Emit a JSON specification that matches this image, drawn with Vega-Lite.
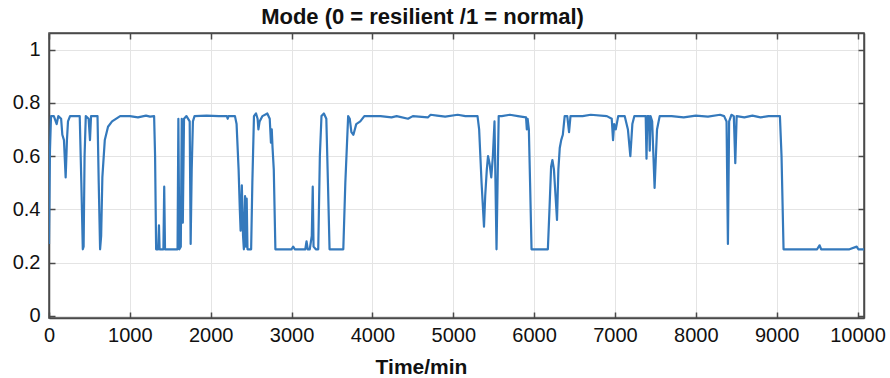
{
  "$schema": "https://vega.github.io/schema/vega-lite/v6.json",
  "width": 815,
  "height": 285,
  "autosize": {"type": "none"},
  "padding": {"left": 49, "top": 33, "right": 26, "bottom": 60},
  "background": "white",
  "config": {
    "font": "Liberation Sans",
    "view": {"stroke": "#4a4a4a", "strokeWidth": 1.5},
    "axis": {"labelFont": "Liberation Sans", "titleFont": "Liberation Sans", "labelColor": "#111", "titleColor": "#111"}
  },
  "title": {
    "text": "Mode (0 = resilient /1 = normal)",
    "font": "Liberation Sans",
    "fontSize": 22,
    "fontWeight": "bold",
    "color": "#111",
    "anchor": "middle",
    "dx": -34,
    "offset": -14,
    "baseline": "alphabetic"
  },
  "data": {
    "values": [
      {"t": 0, "v": 0.27}, {"t": 12, "v": 0.62}, {"t": 25, "v": 0.75}, {"t": 60, "v": 0.75}, {"t": 95, "v": 0.72}, {"t": 115, "v": 0.75},
      {"t": 150, "v": 0.74}, {"t": 165, "v": 0.68}, {"t": 185, "v": 0.66}, {"t": 206, "v": 0.52}, {"t": 222, "v": 0.66}, {"t": 235, "v": 0.73},
      {"t": 260, "v": 0.75}, {"t": 380, "v": 0.75}, {"t": 400, "v": 0.5}, {"t": 418, "v": 0.25}, {"t": 428, "v": 0.26}, {"t": 440, "v": 0.6},
      {"t": 455, "v": 0.75}, {"t": 490, "v": 0.74}, {"t": 507, "v": 0.66}, {"t": 520, "v": 0.75}, {"t": 600, "v": 0.75}, {"t": 615, "v": 0.5},
      {"t": 632, "v": 0.25}, {"t": 645, "v": 0.3}, {"t": 660, "v": 0.52}, {"t": 690, "v": 0.66}, {"t": 730, "v": 0.71}, {"t": 780, "v": 0.73},
      {"t": 880, "v": 0.75}, {"t": 1000, "v": 0.75}, {"t": 1100, "v": 0.745}, {"t": 1200, "v": 0.752}, {"t": 1250, "v": 0.748}, {"t": 1300, "v": 0.75},
      {"t": 1312, "v": 0.6}, {"t": 1325, "v": 0.25}, {"t": 1350, "v": 0.25}, {"t": 1360, "v": 0.34}, {"t": 1368, "v": 0.25}, {"t": 1415, "v": 0.25},
      {"t": 1425, "v": 0.485}, {"t": 1435, "v": 0.25}, {"t": 1500, "v": 0.25}, {"t": 1590, "v": 0.25}, {"t": 1600, "v": 0.74}, {"t": 1612, "v": 0.25},
      {"t": 1630, "v": 0.26}, {"t": 1642, "v": 0.74}, {"t": 1655, "v": 0.35}, {"t": 1670, "v": 0.74}, {"t": 1700, "v": 0.75}, {"t": 1740, "v": 0.73},
      {"t": 1752, "v": 0.27}, {"t": 1765, "v": 0.55}, {"t": 1780, "v": 0.73}, {"t": 1800, "v": 0.75}, {"t": 1950, "v": 0.752}, {"t": 2100, "v": 0.75},
      {"t": 2200, "v": 0.75}, {"t": 2210, "v": 0.74}, {"t": 2220, "v": 0.75}, {"t": 2300, "v": 0.75}, {"t": 2320, "v": 0.72}, {"t": 2345, "v": 0.55},
      {"t": 2360, "v": 0.4}, {"t": 2370, "v": 0.32}, {"t": 2385, "v": 0.49}, {"t": 2400, "v": 0.3}, {"t": 2410, "v": 0.25}, {"t": 2425, "v": 0.45},
      {"t": 2435, "v": 0.26}, {"t": 2445, "v": 0.44}, {"t": 2455, "v": 0.25}, {"t": 2500, "v": 0.25}, {"t": 2515, "v": 0.5}, {"t": 2535, "v": 0.75},
      {"t": 2560, "v": 0.76}, {"t": 2580, "v": 0.74}, {"t": 2590, "v": 0.7}, {"t": 2605, "v": 0.73}, {"t": 2640, "v": 0.75}, {"t": 2700, "v": 0.76},
      {"t": 2730, "v": 0.74}, {"t": 2745, "v": 0.65}, {"t": 2755, "v": 0.7}, {"t": 2765, "v": 0.63}, {"t": 2780, "v": 0.55}, {"t": 2800, "v": 0.25},
      {"t": 2830, "v": 0.25}, {"t": 3000, "v": 0.25}, {"t": 3020, "v": 0.26}, {"t": 3040, "v": 0.25}, {"t": 3170, "v": 0.25}, {"t": 3185, "v": 0.28},
      {"t": 3200, "v": 0.25}, {"t": 3225, "v": 0.25}, {"t": 3250, "v": 0.3}, {"t": 3262, "v": 0.485}, {"t": 3272, "v": 0.26}, {"t": 3300, "v": 0.25},
      {"t": 3330, "v": 0.25}, {"t": 3350, "v": 0.6}, {"t": 3370, "v": 0.75}, {"t": 3400, "v": 0.76}, {"t": 3430, "v": 0.74}, {"t": 3450, "v": 0.5},
      {"t": 3470, "v": 0.25}, {"t": 3520, "v": 0.25}, {"t": 3640, "v": 0.25}, {"t": 3665, "v": 0.5}, {"t": 3700, "v": 0.75}, {"t": 3720, "v": 0.74},
      {"t": 3740, "v": 0.69}, {"t": 3765, "v": 0.68}, {"t": 3800, "v": 0.72}, {"t": 3850, "v": 0.73}, {"t": 3900, "v": 0.75}, {"t": 4100, "v": 0.75},
      {"t": 4236, "v": 0.745}, {"t": 4300, "v": 0.75}, {"t": 4440, "v": 0.74}, {"t": 4500, "v": 0.75}, {"t": 4685, "v": 0.745}, {"t": 4720, "v": 0.755},
      {"t": 4800, "v": 0.752}, {"t": 4900, "v": 0.748}, {"t": 5055, "v": 0.755}, {"t": 5150, "v": 0.75}, {"t": 5300, "v": 0.75}, {"t": 5320, "v": 0.7},
      {"t": 5350, "v": 0.5}, {"t": 5380, "v": 0.335}, {"t": 5395, "v": 0.45}, {"t": 5415, "v": 0.55}, {"t": 5430, "v": 0.6}, {"t": 5450, "v": 0.57},
      {"t": 5470, "v": 0.52}, {"t": 5490, "v": 0.6}, {"t": 5510, "v": 0.73}, {"t": 5522, "v": 0.5}, {"t": 5535, "v": 0.25}, {"t": 5548, "v": 0.5},
      {"t": 5562, "v": 0.75}, {"t": 5600, "v": 0.75}, {"t": 5700, "v": 0.755}, {"t": 5800, "v": 0.75}, {"t": 5900, "v": 0.745}, {"t": 5910, "v": 0.7},
      {"t": 5920, "v": 0.74}, {"t": 5935, "v": 0.7}, {"t": 5950, "v": 0.5}, {"t": 5968, "v": 0.25}, {"t": 6000, "v": 0.25}, {"t": 6170, "v": 0.25},
      {"t": 6190, "v": 0.4}, {"t": 6210, "v": 0.56}, {"t": 6226, "v": 0.585}, {"t": 6245, "v": 0.55}, {"t": 6265, "v": 0.45}, {"t": 6283, "v": 0.36},
      {"t": 6300, "v": 0.55}, {"t": 6317, "v": 0.63}, {"t": 6335, "v": 0.66}, {"t": 6355, "v": 0.68}, {"t": 6378, "v": 0.75}, {"t": 6410, "v": 0.75},
      {"t": 6432, "v": 0.69}, {"t": 6450, "v": 0.75}, {"t": 6600, "v": 0.75}, {"t": 6700, "v": 0.755}, {"t": 6900, "v": 0.75}, {"t": 6960, "v": 0.74},
      {"t": 6976, "v": 0.66}, {"t": 6990, "v": 0.72}, {"t": 7010, "v": 0.7}, {"t": 7040, "v": 0.75}, {"t": 7120, "v": 0.75}, {"t": 7160, "v": 0.7},
      {"t": 7190, "v": 0.6}, {"t": 7215, "v": 0.72}, {"t": 7240, "v": 0.75}, {"t": 7380, "v": 0.75}, {"t": 7390, "v": 0.59}, {"t": 7400, "v": 0.75},
      {"t": 7420, "v": 0.75}, {"t": 7430, "v": 0.62}, {"t": 7440, "v": 0.75}, {"t": 7460, "v": 0.73}, {"t": 7490, "v": 0.48}, {"t": 7520, "v": 0.7},
      {"t": 7553, "v": 0.75}, {"t": 7700, "v": 0.75}, {"t": 7850, "v": 0.745}, {"t": 8000, "v": 0.752}, {"t": 8150, "v": 0.748}, {"t": 8300, "v": 0.755},
      {"t": 8350, "v": 0.75}, {"t": 8380, "v": 0.73}, {"t": 8397, "v": 0.27}, {"t": 8412, "v": 0.73}, {"t": 8440, "v": 0.755}, {"t": 8470, "v": 0.75},
      {"t": 8488, "v": 0.573}, {"t": 8505, "v": 0.75}, {"t": 8600, "v": 0.745}, {"t": 8700, "v": 0.752}, {"t": 8800, "v": 0.745}, {"t": 8900, "v": 0.75},
      {"t": 9040, "v": 0.75}, {"t": 9060, "v": 0.6}, {"t": 9085, "v": 0.25}, {"t": 9200, "v": 0.25}, {"t": 9500, "v": 0.25}, {"t": 9530, "v": 0.265},
      {"t": 9550, "v": 0.25}, {"t": 9900, "v": 0.25}, {"t": 9990, "v": 0.26}, {"t": 10010, "v": 0.25}, {"t": 10080, "v": 0.25}
    ]
  },
  "layer": [
    {
      "mark": {"type": "line", "color": "#3479bc", "strokeWidth": 2.2, "clip": true, "strokeJoin": "round"},
      "encoding": {
        "x": {
          "field": "t", "type": "quantitative",
          "scale": {"domain": [0, 10080], "nice": false, "zero": false},
          "axis": {
            "values": [0, 1000, 2000, 3000, 4000, 5000, 6000, 7000, 8000, 9000, 10000],
            "format": "d", "labelFontSize": 20, "labelPadding": 13, "labelFlush": false,
            "tickSize": -6, "tickColor": "#4a4a4a", "tickWidth": 1.5,
            "domainColor": "#4a4a4a", "domainWidth": 1.5,
            "grid": true, "gridColor": "#e4e4e4", "gridWidth": 1,
            "title": "Time/min", "titleFontSize": 21, "titleFontWeight": "bold",
            "titleX": 372, "titleY": 55, "titleBaseline": "alphabetic", "titleAlign": "center"
          }
        },
        "y": {
          "field": "v", "type": "quantitative",
          "scale": {"domain": [-0.008, 1.062], "nice": false, "zero": false},
          "axis": {
            "values": [0, 0.2, 0.4, 0.6, 0.8, 1],
            "format": "~g", "labelFontSize": 20, "labelPadding": 15, "labelFlush": false,
            "tickSize": -6, "tickColor": "#4a4a4a", "tickWidth": 1.5,
            "domainColor": "#4a4a4a", "domainWidth": 1.5,
            "grid": true, "gridColor": "#e4e4e4", "gridWidth": 1,
            "title": null
          }
        }
      }
    },
    {
      "mark": {"type": "line", "strokeOpacity": 0},
      "encoding": {
        "x": {
          "field": "t", "type": "quantitative",
          "axis": {
            "orient": "top", "values": [0, 1000, 2000, 3000, 4000, 5000, 6000, 7000, 8000, 9000, 10000],
            "labels": false, "tickSize": -6, "tickColor": "#4a4a4a", "tickWidth": 1.5,
            "domainColor": "#4a4a4a", "domainWidth": 1.5, "grid": false, "title": null
          }
        },
        "y": {
          "field": "v", "type": "quantitative",
          "axis": {
            "orient": "right", "values": [0, 0.2, 0.4, 0.6, 0.8, 1],
            "labels": false, "tickSize": -6, "tickColor": "#4a4a4a", "tickWidth": 1.5,
            "domainColor": "#4a4a4a", "domainWidth": 1.5, "grid": false, "title": null
          }
        }
      }
    }
  ],
  "resolve": {"axis": {"x": "independent", "y": "independent"}}
}
